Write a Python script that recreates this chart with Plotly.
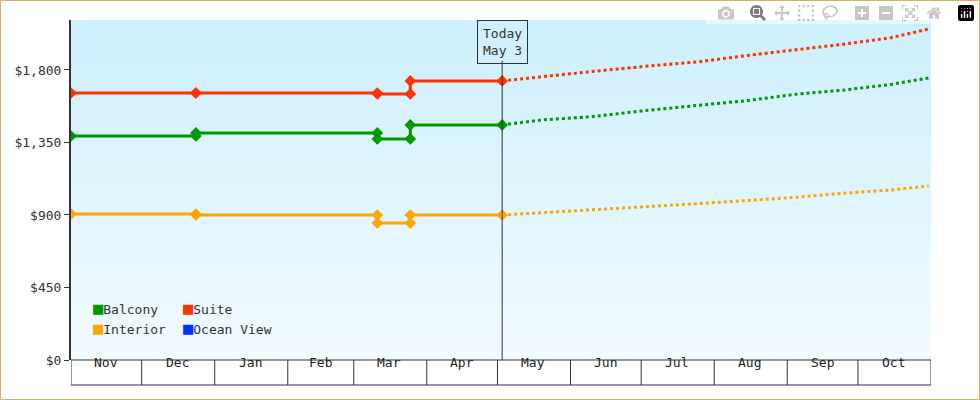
import plotly.graph_objects as go

months = ["Nov","Dec","Jan","Feb","Mar","Apr","May","Jun","Jul","Aug","Sep","Oct"]
month_starts = ["2022-11-01","2022-12-01","2023-01-01","2023-02-01","2023-03-01","2023-04-01",
                "2023-05-01","2023-06-01","2023-07-01","2023-08-01","2023-09-01","2023-10-01","2023-11-01"]
month_mids = ["2022-11-16","2022-12-16","2023-01-16","2023-02-15","2023-03-16","2023-04-16",
              "2023-05-16","2023-06-16","2023-07-16","2023-08-16","2023-09-16","2023-10-16"]

hist_dates = ["2022-11-01","2022-12-24","2022-12-24","2023-03-11","2023-03-11","2023-03-25","2023-03-25","2023-05-03"]
balcony_hist = [1390,1390,1409,1409,1372,1372,1459,1459]
suite_hist = [1657,1657,1657,1657,1651,1651,1732,1732]
interior_hist = [906,906,900,900,850,850,900,900]

fc_dates = ["2023-05-03","2023-05-20","2023-06-10","2023-07-01","2023-07-25","2023-08-15","2023-09-05","2023-09-25","2023-10-15","2023-10-31"]
balcony_fc = [1459,1490,1510,1545,1580,1610,1650,1675,1710,1750]
suite_fc = [1732,1760,1790,1820,1850,1890,1925,1960,2000,2054]
interior_fc = [900,915,935,950,970,990,1010,1035,1055,1080]

today = "2023-05-03"
yticks = [0,450,900,1350,1800]
ytick_text = ["$0","$450","$900","$1,350","$1,800"]

colors = {"Balcony":"#009900","Suite":"#ff3300","Interior":"#ffa500","Ocean View":"#0033ff"}
FONT = "DejaVu Sans Mono"

fig = go.Figure()
for name, h, f in [("Interior",interior_hist,interior_fc),("Balcony",balcony_hist,balcony_fc),("Suite",suite_hist,suite_fc)]:
    c = colors[name]
    fig.add_trace(go.Scatter(x=fc_dates, y=f, mode="lines", line=dict(color=c, width=3, dash="dot"), showlegend=False, hoverinfo="skip"))
    fig.add_trace(go.Scatter(x=hist_dates, y=h, mode="lines+markers", line=dict(color=c, width=3),
                             marker=dict(symbol="diamond", size=9, color=c), showlegend=False))

shapes = []
n = 170
top = (205, 239, 252); bot = (242, 251, 255)
for i in range(n):
    t = i/(n-1)
    col = "rgb(%d,%d,%d)" % tuple(round(top[k]+(bot[k]-top[k])*t) for k in range(3))
    shapes.append(dict(type="rect", xref="paper", yref="paper", x0=0, x1=1, y0=1-(i+1.02)/n, y1=1-i/n,
                       fillcolor=col, line=dict(width=0), layer="below"))
shapes.append(dict(type="line", xref="x", yref="paper", x0=today, x1=today, y0=0, y1=0.88, line=dict(color="#333", width=1)))
for d in month_starts:
    shapes.append(dict(type="line", xref="x", yref="paper", x0=d, x1=d, y0=0, y1=-25/340, line=dict(color="#333", width=1)))
shapes.append(dict(type="line", xref="paper", yref="paper", x0=0, x1=1, y0=-25/340, y1=-25/340, line=dict(color="#333", width=1)))
shapes.append(dict(type="line", xref="paper", yref="paper", x0=0, x1=1, y0=0, y1=0, line=dict(color="#333", width=1)))
shapes.append(dict(type="rect", xref="paper", yref="paper", x0=-70.5/860, x1=908.5/860, y0=-39.5/340, y1=359.5/340,
                   line=dict(color="#e8a860", width=1)))

ann = [dict(x=today, xref="x", y=1, yref="paper", yanchor="top", text="Today<br>May 3", showarrow=False,
            bordercolor="#333", borderwidth=1, borderpad=5, bgcolor="rgba(0,0,0,0)", font=dict(family=FONT, size=13, color="#333"))]
for m, d in zip(months, month_mids):
    ann.append(dict(x=d, xref="x", y=-12/340, yref="paper", text=m, showarrow=False, font=dict(family=FONT, size=13, color="#222")))
leg = [("Balcony", 20, 320), ("Suite", 110, 320), ("Interior", 20, 340), ("Ocean View", 110, 340)]
for name, px, py in leg:
    ann.append(dict(x=px/860, xref="paper", y=(360-py)/340, yref="paper", xanchor="left",
                    text="<span style='color:%s;font-size:17px'>■</span>%s" % (colors[name], name),
                    showarrow=False, font=dict(family=FONT, size=13, color="#333")))

fig.update_layout(
    width=980, height=400, margin=dict(l=71, r=49, t=20, b=40),
    paper_bgcolor="white", plot_bgcolor="rgba(0,0,0,0)",
    shapes=shapes, annotations=ann,
    xaxis=dict(type="date", range=["2022-11-01","2023-11-01"], showticklabels=False, showgrid=False, zeroline=False, ticks=""),
    yaxis=dict(range=[0,2110], tickvals=yticks, ticktext=ytick_text, showgrid=False, zeroline=False,
               showline=True, linecolor="#333", linewidth=2, ticks="outside", ticklen=5, tickcolor="#333",
               tickfont=dict(family=FONT, size=13, color="#333")),
    showlegend=False,
)
fig.write_html("out.html")
with open("out.html", encoding="utf-8") as fh:
    html = fh.read()
html = html.replace("<head>", "<head><style>html,body{margin:0;padding:0;overflow:hidden}</style>", 1)
with open("out.html", "w", encoding="utf-8") as fh:
    fh.write(html)
